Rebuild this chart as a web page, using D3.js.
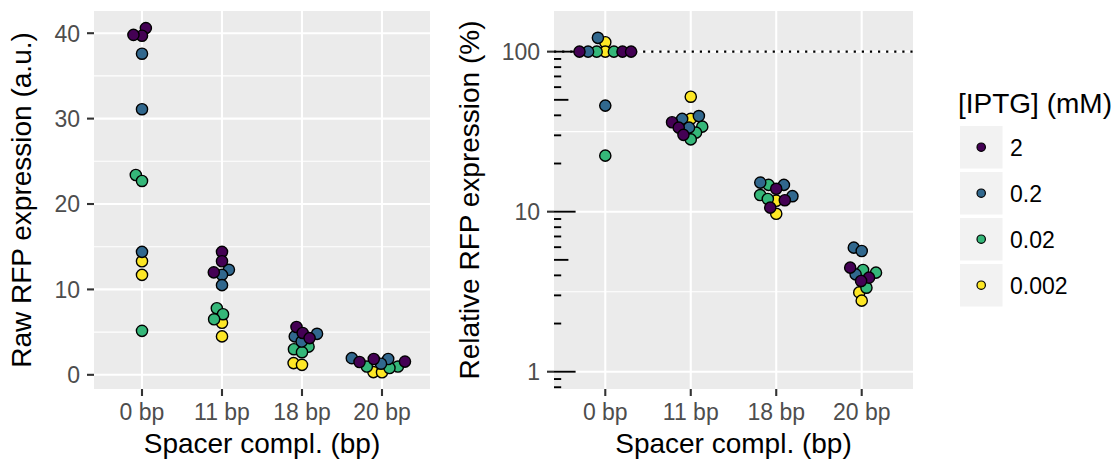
<!DOCTYPE html>
<html><head><meta charset="utf-8">
<script src="https://cdn.jsdelivr.net/npm/d3@7"></script>
<style>body{margin:0;background:#fff} text{font-family:"Liberation Sans",Arial,Helvetica,sans-serif}</style>
</head><body><svg id="c" width="1120" height="460"></svg>
<script>
// ---- data ----
const categories = ["0 bp", "11 bp", "18 bp", "20 bp"];
const iptgLevels = ["2", "0.2", "0.02", "0.002"];
const levelColors = ["#440154", "#31688E", "#35B779", "#FDE725"];

// Raw RFP expression (a.u.), per spacer category, replicates
const raw_2     = [[40.6, 39.7, 39.8], [14.4, 13.3, 12.0], [5.6, 4.9, 4.3], [1.85, 1.55, 1.5]];
const raw_0_2   = [[37.6, 31.1, 14.4], [12.3, 11.7, 10.5], [4.8, 4.5, 3.9], [1.95, 1.85, 1.3]];
const raw_0_02  = [[23.4, 22.7, 5.15], [7.8, 7.1, 6.5], [3.3, 3.0, 2.65], [0.97, 0.97, 0.8]];
const raw_0_002 = [[13.3, 11.7], [6.1, 4.5], [1.37, 1.17], [0.32, 0.3]];

// Relative RFP expression (%)
const rel_2     = [[100, 100, 100], [36.2, 33.5, 30.2], [13.9, 11.8, 10.6], [4.47, 3.87, 3.69]];
const rel_0_2   = [[122, 100, 46], [39.6, 38, 33.5], [15.2, 14.7, 12.5], [5.96, 5.68, 4.06]];
const rel_0_02  = [[100, 100, 22.4], [34, 31.2, 28.3], [14.7, 12.7, 12.0], [4.32, 4.16, 3.35]];
const rel_0_002 = [[114.5, 100], [52.3, 38], [11.7, 9.7], [3.13, 2.78]];

const rawTicks = [0, 10, 20, 30, 40];
const relTicks = [1, 10, 100];
const refLine = 100;

const rawSeries = [raw_2, raw_0_2, raw_0_02, raw_0_002];
const relSeries = [rel_2, rel_0_2, rel_0_02, rel_0_002];

// ---- helpers ----
const svg = d3.select("#c");
const TICK_FS = 23, TITLE_FS = 28;
const PT_R = 5.6, SWARM_D = 8.6;

function flatten(series) {
  const out = [];
  series.forEach((byCat, li) => byCat.forEach((vals, ci) => vals.forEach(v => out.push({level: li, cat: categories[ci], v}))));
  return out;
}

function swarm(points, d) {
  // ascending-priority swarm placement
  const ord = points.slice().sort((a, b) => (b.py - a.py) || (b.level - a.level));
  const placed = [];
  ord.forEach(p => {
    const near = placed.filter(q => Math.abs(q.py - p.py) < d);
    const cands = [0];
    near.forEach(q => {
      const dx = Math.sqrt(d * d - (p.py - q.py) ** 2);
      cands.push(q.dx + dx, q.dx - dx);
    });
    const ok = cands.filter(c => near.every(q => (c - q.dx) ** 2 + (p.py - q.py) ** 2 >= d * d - 1e-6));
    ok.sort((a, b) => Math.abs(a) - Math.abs(b) || a - b);
    p.dx = ok[0];
    placed.push(p);
  });
}

function panel(opts) {
  const {x0, x1, y0, y1, yScale, ticks, minor, series, yTitle, yTitleX, logticks} = opts;
  const x = d3.scalePoint().domain(categories).range([x0, x1]).padding(0.6);
  const g = svg.append("g");
  g.append("rect").attr("x", x0).attr("y", y0).attr("width", x1 - x0).attr("height", y1 - y0).attr("fill", "#EBEBEB");
  // minor grid
  g.selectAll(".mn").data(minor).join("line")
    .attr("x1", x0).attr("x2", x1).attr("y1", d => yScale(d)).attr("y2", d => yScale(d))
    .attr("stroke", "#fff").attr("stroke-width", 1.1);
  // major grid
  g.selectAll(".mj").data(ticks).join("line")
    .attr("x1", x0).attr("x2", x1).attr("y1", d => yScale(d)).attr("y2", d => yScale(d))
    .attr("stroke", "#fff").attr("stroke-width", 2.1);
  g.selectAll(".mx").data(categories).join("line")
    .attr("x1", d => x(d)).attr("x2", d => x(d)).attr("y1", y0).attr("y2", y1)
    .attr("stroke", "#fff").attr("stroke-width", 2.1);

  if (logticks) {
    const lt = [];
    for (let k = -1; k <= 2; k++) for (let m = 1; m <= 9; m++) {
      const v = m * Math.pow(10, k);
      const [lo, hi] = yScale.domain();
      if (v >= lo && v <= hi) lt.push({v, len: m === 1 ? 21.6 : (m === 5 ? 14.4 : 7.2)});
    }
    g.selectAll(".lt").data(lt).join("line")
      .attr("x1", x0).attr("x2", d => x0 + d.len).attr("y1", d => yScale(d.v)).attr("y2", d => yScale(d.v))
      .attr("stroke", "#000").attr("stroke-width", 1.9);
    g.append("line").attr("x1", x0).attr("x2", x1).attr("y1", yScale(refLine)).attr("y2", yScale(refLine))
      .attr("stroke", "#000").attr("stroke-width", 2.2).attr("stroke-dasharray", "2.2,5.9");
  }

  // points
  const pts = flatten(series);
  pts.forEach(p => p.py = yScale(p.v));
  categories.forEach(c => swarm(pts.filter(p => p.cat === c), SWARM_D));
  const drawOrder = pts.slice().sort((a, b) => b.level - a.level);
  g.selectAll(".pt").data(drawOrder).join("circle")
    .attr("cx", d => x(d.cat) + d.dx).attr("cy", d => d.py).attr("r", PT_R)
    .attr("fill", d => levelColors[d.level]).attr("stroke", "#000").attr("stroke-width", 1.4);

  // y axis
  g.selectAll(".yt").data(ticks).join("line")
    .attr("x1", x0 - 7).attr("x2", x0).attr("y1", d => yScale(d)).attr("y2", d => yScale(d))
    .attr("stroke", "#333").attr("stroke-width", 2.1);
  g.selectAll(".yl").data(ticks).join("text")
    .attr("x", x0 - 14).attr("y", d => yScale(d) + 8.3).attr("text-anchor", "end")
    .attr("font-size", TICK_FS).attr("fill", "#4D4D4D").text(d => d);
  // x axis
  g.selectAll(".xt").data(categories).join("line")
    .attr("x1", d => x(d)).attr("x2", d => x(d)).attr("y1", y1).attr("y2", y1 + 7)
    .attr("stroke", "#333").attr("stroke-width", 2.1);
  g.selectAll(".xl").data(categories).join("text")
    .attr("x", d => x(d)).attr("y", y1 + 31).attr("text-anchor", "middle")
    .attr("font-size", TICK_FS).attr("fill", "#4D4D4D").text(d => d);
  g.append("text").attr("x", (x0 + x1) / 2).attr("y", 453).attr("text-anchor", "middle")
    .attr("font-size", TITLE_FS).attr("fill", "#000").text("Spacer compl. (bp)");
  g.append("text").attr("transform", `translate(${yTitleX},${(y0 + y1) / 2}) rotate(-90)`)
    .attr("text-anchor", "middle").attr("font-size", TITLE_FS).attr("fill", "#000").text(yTitle);
}

const Y0 = 11, Y1 = 389;
panel({
  x0: 94, x1: 430, y0: Y0, y1: Y1,
  yScale: d3.scaleLinear().domain([-1.66, 42.6]).range([Y1, Y0]),
  ticks: rawTicks, minor: [5, 15, 25, 35],
  series: rawSeries, yTitle: "Raw RFP expression (a.u.)", yTitleX: 31, logticks: false
});
panel({
  x0: 554, x1: 913, y0: Y0, y1: Y1,
  yScale: d3.scaleLog().domain([Math.pow(10, -0.108), Math.pow(10, 2.254)]).range([Y1, Y0]),
  ticks: relTicks, minor: [Math.pow(10, 0.5), Math.pow(10, 1.5)],
  series: relSeries, yTitle: "Relative RFP expression (%)", yTitleX: 479, logticks: true
});

// legend
const lg = svg.append("g");
lg.append("text").attr("x", 958).attr("y", 113).attr("font-size", TITLE_FS).attr("fill", "#000").text("[IPTG] (mM)");
const keys = lg.selectAll(".k").data(iptgLevels).join("g")
  .attr("transform", (d, i) => `translate(960,${126 + i * 46})`);
keys.append("rect").attr("width", 42.5).attr("height", 42.5).attr("fill", "#F2F2F2");
keys.append("circle").attr("cx", 21.2).attr("cy", 21.2).attr("r", 4.2)
  .attr("fill", (d, i) => levelColors[i]).attr("stroke", "#000").attr("stroke-width", 1.2);
keys.append("text").attr("x", 50).attr("y", 21.2 + 8.3).attr("font-size", TICK_FS).attr("fill", "#000").text(d => d);
</script></body></html>
